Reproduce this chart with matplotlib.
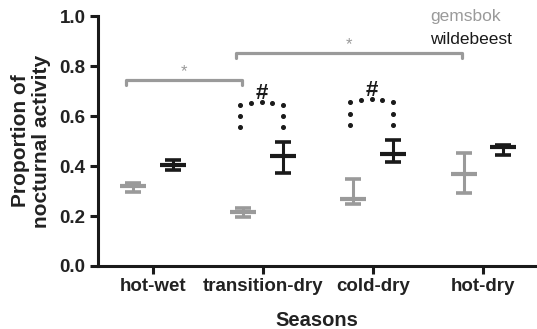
import matplotlib.pyplot as plt
import numpy as np

plt.rcParams["font.family"] = ["Liberation Sans", "DejaVu Sans"]

seasons = ["hot-wet", "transition-dry", "cold-dry", "hot-dry"]

# proportion of nocturnal activity: mean, lower and upper error limits
gems_mean = [0.32, 0.215, 0.27, 0.367]
gems_low = [0.298, 0.195, 0.247, 0.291]
gems_high = [0.333, 0.232, 0.348, 0.451]

wild_mean = [0.405, 0.44, 0.45, 0.475]
wild_low = [0.386, 0.371, 0.417, 0.443]
wild_high = [0.425, 0.497, 0.504, 0.485]

# significance marks: (from season, to season, height)
star_brackets = [(0, 1, 0.744), (1, 3, 0.852)]
hash_seasons = [1, 2]
hash_tops = [0.644, 0.655]
hash_bottoms = [0.556, 0.564]

gray = "#9a9a9a"
black = "#1a1a1a"
offset = 0.18

fig = plt.figure(figsize=(5.37, 3.29), dpi=100)
ax = fig.add_axes([0.1825, 0.1915, 0.814, 0.7595])

x = np.arange(1, len(seasons) + 1)


def draw_group(xpos, mean, low, high, color):
    mean = np.array(mean)
    yerr = [mean - np.array(low), np.array(high) - mean]
    ax.errorbar(xpos, mean, yerr=yerr, fmt="none", ecolor=color,
                elinewidth=2.2, capsize=5.5, capthick=2.6)
    ax.plot(xpos, mean, ls="none", marker="_", markersize=19,
            mew=3.0, color=color)


draw_group(x - offset, gems_mean, gems_low, gems_high, gray)
draw_group(x + offset, wild_mean, wild_low, wild_high, black)

# gray brackets with stars
for i0, i1, h in star_brackets:
    xa = x[i0] - offset - 0.07
    xb = x[i1] - offset - 0.01
    ax.plot([xa, xa, xb, xb], [h - 0.02, h, h, h - 0.02], color=gray,
            lw=2.3, solid_joinstyle="round", solid_capstyle="round")
    ax.text((xa + xb) / 2, h + 0.004, "*", color=gray, fontsize=12,
            ha="center", va="bottom")

# dotted arcs with hashes
for s, yt, yb in zip(hash_seasons, hash_tops, hash_bottoms):
    xa = x[s] - offset - 0.03
    xb = x[s] + offset
    t = np.linspace(0, 1, 5)
    top_x = xa + (xb - xa) * t
    top_y = yt + 0.012 * np.sin(np.pi * t)
    side_y = np.linspace(yb, yt, 3)[:-1]
    dots_x = np.concatenate([[xa, xa], top_x, [xb, xb]])
    dots_y = np.concatenate([side_y, top_y, side_y[::-1]])
    ax.plot(dots_x, dots_y, ls="none", marker="o", markersize=2.6,
            color=black)
    ax.text((xa + xb) / 2, yt + 0.004, "#", color=black, fontsize=16,
            fontweight="bold", ha="center", va="bottom")

fig.text(430 / 537, 1 - 17 / 329, "gemsbok", color=gray, fontsize=12.5,
         va="center")
fig.text(430 / 537, 1 - 40 / 329, "wildebeest", color=black,
         fontsize=12.5, va="center")

ax.set_xlim(0.5, 4.47)
ax.set_ylim(0, 1.0)
ax.set_xticks(x)
ax.set_xticklabels(seasons)
ax.set_yticks(np.arange(0, 1.01, 0.2))
ax.set_yticklabels([f"{v:.1f}" for v in np.arange(0, 1.01, 0.2)])

for side in ["top", "right"]:
    ax.spines[side].set_visible(False)
for side in ["left", "bottom"]:
    ax.spines[side].set_linewidth(2.2)
    ax.spines[side].set_color(black)

ax.tick_params(width=2.2, length=6, color=black, labelsize=13.5, pad=3)
for lab in ax.get_xticklabels() + ax.get_yticklabels():
    lab.set_fontweight("bold")
    lab.set_color("#222222")

ax.set_xlabel("Seasons", fontsize=14.5, fontweight="bold", color="#222222",
              labelpad=11)
ax.set_ylabel("Proportion of\nnocturnal activity", fontsize=15,
              fontweight="bold", color="#222222", labelpad=6,
              linespacing=1.15)

fig.savefig("out.png", dpi=100)
